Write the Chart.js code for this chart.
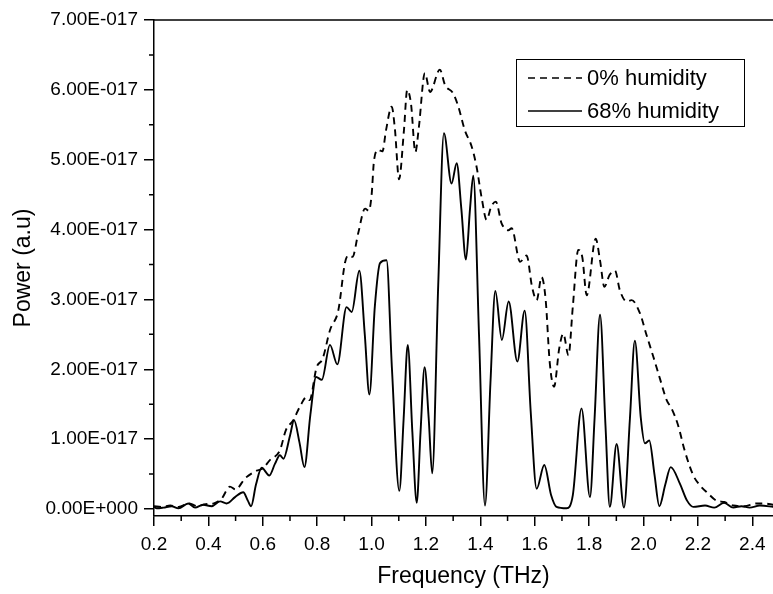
<!DOCTYPE html>
<html><head><meta charset="utf-8">
<script src="https://cdn.jsdelivr.net/npm/chart.js@4/dist/chart.umd.min.js"></script>
<style>html,body{margin:0;padding:0;background:#fff}#wrap{width:773px;height:594px}</style>
</head><body><div id="wrap"><canvas id="c" width="773" height="594"></canvas></div>
<script>
const seriesLabels = ["0% humidity", "68% humidity"];

const freqDry = [0.20,0.23,0.26,0.29,0.33,0.36,0.39,0.42,0.449,0.479,0.50,0.535,0.578,0.60,0.626,0.663,0.685,0.712,0.737,0.761,0.772,0.798,0.82,0.847,0.878,0.902,0.914,0.93,0.951,0.976,0.99,1.0,1.009,1.025,1.04,1.053,1.074,1.086,1.101,1.119,1.131,1.145,1.161,1.174,1.196,1.215,1.251,1.27,1.30,1.319,1.343,1.368,1.386,1.405,1.423,1.44,1.457,1.478,1.503,1.515,1.546,1.570,1.59,1.607,1.625,1.64,1.655,1.671,1.69,1.705,1.724,1.74,1.76,1.775,1.791,1.824,1.84,1.856,1.875,1.895,1.913,1.938,1.956,1.987,2.011,2.036,2.06,2.085,2.103,2.127,2.151,2.183,2.207,2.238,2.268,2.297,2.33,2.37,2.415,2.44,2.48];
const powerDry = [0.04,0.03,0.05,0.03,0.08,0.04,0.07,0.08,0.15,0.32,0.28,0.44,0.55,0.58,0.70,0.84,1.13,1.27,1.47,1.60,1.56,2.03,2.15,2.56,2.85,3.52,3.63,3.61,3.95,4.30,4.27,4.49,4.99,5.14,5.12,5.42,5.76,5.43,4.72,5.42,6.00,5.80,5.11,5.47,6.24,5.97,6.29,6.07,5.95,5.76,5.42,5.19,4.90,4.45,4.14,4.33,4.40,4.09,3.99,4.02,3.54,3.63,3.18,2.99,3.32,3.00,2.10,1.75,2.30,2.51,2.20,2.90,3.71,3.60,3.06,3.87,3.56,3.18,3.35,3.41,3.13,2.97,2.99,2.80,2.49,2.18,1.87,1.56,1.44,1.20,0.84,0.48,0.34,0.22,0.12,0.10,0.05,0.04,0.08,0.08,0.06];

const freqWet = [0.20,0.21,0.235,0.265,0.29,0.326,0.351,0.381,0.412,0.443,0.467,0.498,0.528,0.545,0.557,0.575,0.596,0.624,0.645,0.663,0.676,0.70,0.715,0.735,0.753,0.775,0.796,0.817,0.847,0.874,0.908,0.927,0.955,0.975,0.992,1.012,1.031,1.055,1.075,1.102,1.118,1.133,1.15,1.166,1.18,1.195,1.21,1.223,1.245,1.266,1.294,1.313,1.33,1.347,1.362,1.374,1.395,1.417,1.437,1.455,1.479,1.504,1.536,1.563,1.585,1.607,1.635,1.66,1.68,1.717,1.74,1.772,1.803,1.82,1.840,1.86,1.876,1.901,1.928,1.95,1.968,1.99,2.005,2.021,2.04,2.058,2.08,2.100,2.134,2.16,2.183,2.226,2.26,2.296,2.33,2.36,2.39,2.428,2.48];
const powerWet = [0.03,0.01,0.02,0.04,0.01,0.08,0.02,0.06,0.04,0.11,0.08,0.17,0.24,0.12,0.04,0.35,0.59,0.48,0.65,0.77,0.72,1.05,1.27,0.95,0.60,1.35,1.89,1.85,2.35,2.07,2.89,2.82,3.41,2.50,1.64,2.90,3.52,3.56,2.00,0.26,1.30,2.35,1.10,0.09,1.10,2.03,1.30,0.51,3.20,5.38,4.66,4.95,4.30,3.57,4.30,4.77,2.50,0.05,1.80,3.12,2.42,2.97,2.11,2.84,1.40,0.29,0.63,0.20,0.03,0.01,0.20,1.44,0.17,1.30,2.78,1.20,0.03,0.93,0.02,1.30,2.41,1.30,0.94,0.98,0.50,0.04,0.35,0.60,0.36,0.12,0.03,0.05,0.02,0.09,0.02,0.04,0.02,0.05,0.03];

const xTickValues = [0.2,0.4,0.6,0.8,1.0,1.2,1.4,1.6,1.8,2.0,2.2,2.4];
const xTickLabels = ["0.2","0.4","0.6","0.8","1.0","1.2","1.4","1.6","1.8","2.0","2.2","2.4"];
const xMinorTicks = [0.3,0.5,0.7,0.9,1.1,1.3,1.5,1.7,1.9,2.1,2.3];
const yTickValues = [0,1,2,3,4,5,6,7];
const yTickLabels = ["0.00E+000","1.00E-017","2.00E-017","3.00E-017","4.00E-017","5.00E-017","6.00E-017","7.00E-017"];
const yMinorTicks = [0.5,1.5,2.5,3.5,4.5,5.5,6.5];

const FONT = "'Liberation Sans', Arial, sans-serif";
const DASH = [7,5];

const extras = {
  id: 'extras',
  afterDraw(chart) {
    const ctx = chart.ctx, a = chart.chartArea;
    const xs = chart.scales.x, ys = chart.scales.y;
    ctx.save();
    ctx.strokeStyle = '#000';
    ctx.lineWidth = 1.5;
    ctx.beginPath();
    ctx.moveTo(a.left, a.top); ctx.lineTo(a.right, a.top); ctx.stroke();
    ctx.beginPath();
    xMinorTicks.forEach(v => { const p = xs.getPixelForValue(v); ctx.moveTo(p, a.bottom); ctx.lineTo(p, a.bottom + 5); });
    yMinorTicks.forEach(v => { const p = ys.getPixelForValue(v); ctx.moveTo(a.left, p); ctx.lineTo(a.left - 5, p); });
    ctx.stroke();
    const bx = 516, by = 59, bw = 228, bh = 67;
    ctx.lineWidth = 1;
    ctx.fillStyle = '#fff';
    ctx.fillRect(bx, by, bw, bh);
    ctx.strokeRect(bx + 0.5, by + 0.5, bw, bh);
    ctx.font = "22px " + FONT;
    ctx.fillStyle = '#000';
    ctx.textBaseline = 'middle';
    const rows = [78, 111];
    chart.data.datasets.forEach((ds, i) => {
      ctx.lineWidth = 1.7;
      ctx.setLineDash(ds.borderDash || []);
      ctx.beginPath(); ctx.moveTo(528, rows[i]); ctx.lineTo(582, rows[i]); ctx.stroke();
      ctx.setLineDash([]);
      ctx.fillText(ds.label, 587, rows[i] + 1);
    });
    ctx.restore();
  }
};

new Chart(document.getElementById('c'), {
  type: 'line',
  data: {
    datasets: [
      { label: seriesLabels[0], data: freqDry.map((f, i) => ({x: f, y: powerDry[i]})),
        borderColor: '#000', borderWidth: 1.9, borderDash: DASH, pointRadius: 0, cubicInterpolationMode: 'monotone', fill: false },
      { label: seriesLabels[1], data: freqWet.map((f, i) => ({x: f, y: powerWet[i]})),
        borderColor: '#000', borderWidth: 1.9, pointRadius: 0, cubicInterpolationMode: 'monotone', fill: false }
    ]
  },
  options: {
    responsive: false, animation: false, devicePixelRatio: 1,
    layout: { padding: { top: 20, right: 0, left: 0, bottom: 0 } },
    plugins: { legend: { display: false }, tooltip: { enabled: false } },
    scales: {
      x: {
        type: 'linear', min: 0.2, max: 2.476,
        afterBuildTicks: s => { s.ticks = xTickValues.map(v => ({value: v})); },
        afterFit: s => { s.height = 78; },
        ticks: { callback: (v, i) => xTickLabels[i], color: '#000', font: { family: FONT, size: 19 }, maxRotation: 0, autoSkip: false, padding: 7 },
        grid: { drawOnChartArea: false, drawTicks: true, tickLength: 10, color: '#000', lineWidth: 1.5 },
        border: { display: true, color: '#000', width: 1.5 },
        title: { display: true, text: 'Frequency (THz)', color: '#000', font: { family: FONT, size: 23 }, padding: { top: 2 } }
      },
      y: {
        type: 'linear', min: -0.1, max: 7,
        afterBuildTicks: s => { s.ticks = yTickValues.map(v => ({value: v})); },
        afterFit: s => { s.width = 154; },
        ticks: { callback: (v, i) => yTickLabels[i], color: '#000', font: { family: FONT, size: 19 }, padding: 6 },
        grid: { drawOnChartArea: false, drawTicks: true, tickLength: 10, color: '#000', lineWidth: 1.5 },
        border: { display: true, color: '#000', width: 1.5 },
        title: { display: true, text: 'Power (a.u)', color: '#000', font: { family: FONT, size: 23 }, padding: { top: 10, bottom: 0 } }
      }
    }
  },
  plugins: [extras]
});
</script>
</body></html>
